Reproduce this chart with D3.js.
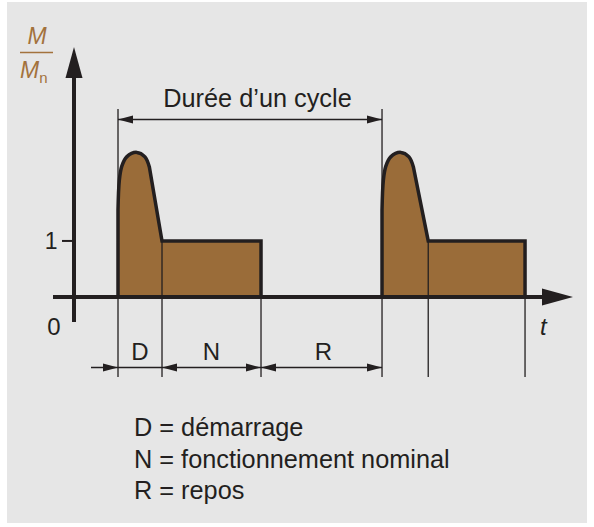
<!DOCTYPE html>
<html><head><meta charset="utf-8">
<script src="https://cdn.jsdelivr.net/npm/d3@7"></script>
<style>body{margin:0;background:#fff}svg{display:block}</style>
</head><body>
<script>
// ---- data ----
const pulseStarts = [4, 28];        // start of each cycle (beginning of D)
const startEnds = [8, 32.2];        // end of D (démarrage)
const nominalEnds = [17, 41];       // end of N (fonctionnement nominal)
const nominalLevel = 1;             // M/Mn during N
const humpProfile = [[0, 1.55], [0.12, 2.08], [0.34, 2.33], [0.79, 2.5], [1.7, 2.58], [2.45, 2.5], [2.85, 2.32]]; // [dt after start, M/Mn]
const phaseLabels = ["D", "N", "R"];
const yTickLabels = ["0", "1"];
const legendLines = ["D = démarrage", "N = fonctionnement nominal", "R = repos"];
const cycleLabel = "Durée d’un cycle";
const xAxisLabel = "t";

// ---- setup ----
const W = 594, H = 527;
const ink = "#231f20", brown = "#9a6c39", labelBrown = "#a3723c";
const svg = d3.select("body").append("svg").attr("width", W).attr("height", H);
svg.append("rect").attr("x", 7).attr("y", 2).attr("width", 580).attr("height", 521).attr("fill", "#e6e6e6");

const x = d3.scaleLinear().domain([0, 45.36]).range([74, 573]);
const y = d3.scaleLinear().domain([0, 4.46]).range([297, 47]);

function arrowHead(tx, ty, dir, len, half) {
  let pts;
  if (dir === "r") pts = [[tx, ty], [tx - len, ty - half], [tx - len, ty + half]];
  if (dir === "l") pts = [[tx, ty], [tx + len, ty - half], [tx + len, ty + half]];
  if (dir === "u") pts = [[tx, ty], [tx - half, ty + len], [tx + half, ty + len]];
  svg.append("path").attr("d", d3.line()(pts) + "Z").attr("fill", ink);
}

// ---- pulses ----
function pulsePath(i) {
  const s = pulseStarts[i];
  const hump = humpProfile.map(([dt, m]) => [x(s + dt), y(m)]);
  const lin = d3.line();
  const crv = d3.line().curve(d3.curveCatmullRom.alpha(0.5));
  const p1 = lin([[x(s), y(0)], hump[0]]);
  const p2 = crv(hump);
  const p3 = lin([hump[hump.length - 1], [x(startEnds[i]), y(nominalLevel)],
    [x(nominalEnds[i]), y(nominalLevel)], [x(nominalEnds[i]), y(0)]]);
  return p1 + "L" + p2.slice(1) + "L" + p3.slice(1);
}
pulseStarts.forEach((s, i) => {
  svg.append("path").attr("d", pulsePath(i)).attr("fill", brown)
    .attr("stroke", ink).attr("stroke-width", 3.5).attr("stroke-linejoin", "miter");
});

// ---- guide lines ----
const guideBottom = 377;
pulseStarts.forEach(s => {
  svg.append("line").attr("x1", x(s)).attr("x2", x(s)).attr("y1", 109).attr("y2", guideBottom)
    .attr("stroke", ink).attr("stroke-width", 1.3);
});
startEnds.concat(nominalEnds).forEach(t => {
  svg.append("line").attr("x1", x(t)).attr("x2", x(t)).attr("y1", y(nominalLevel)).attr("y2", guideBottom)
    .attr("stroke", ink).attr("stroke-width", 1.3);
});

// ---- axes ----
svg.append("line").attr("x1", 53).attr("x2", x.range()[1] - 20).attr("y1", y(0)).attr("y2", y(0))
  .attr("stroke", ink).attr("stroke-width", 4);
arrowHead(x.range()[1], y(0), "r", 31, 8.5);
svg.append("line").attr("x1", x(0)).attr("x2", x(0)).attr("y1", 322).attr("y2", y.range()[1] + 20)
  .attr("stroke", ink).attr("stroke-width", 4);
arrowHead(x(0), y.range()[1], "u", 31, 8.5);
svg.append("line").attr("x1", x(0) - 12).attr("x2", x(0)).attr("y1", y(1)).attr("y2", y(1))
  .attr("stroke", ink).attr("stroke-width", 2);

const font = "'Liberation Sans', Arial, Helvetica, sans-serif";
svg.append("text").text(yTickLabels[1]).attr("x", 57.5).attr("y", y(1) + 8.5)
  .attr("text-anchor", "end").attr("font-family", font).attr("font-size", 23).attr("fill", ink);
svg.append("text").text(yTickLabels[0]).attr("x", 54).attr("y", 335)
  .attr("text-anchor", "middle").attr("font-family", font).attr("font-size", 24).attr("fill", ink);
svg.append("text").text(xAxisLabel).attr("x", 540).attr("y", 335)
  .attr("font-family", font).attr("font-style", "italic").attr("font-size", 24).attr("fill", ink);

// M / Mn label
svg.append("text").text("M").attr("x", 37).attr("y", 43.5).attr("text-anchor", "middle")
  .attr("font-family", font).attr("font-style", "italic").attr("font-size", 23).attr("fill", labelBrown);
svg.append("line").attr("x1", 20).attr("x2", 53).attr("y1", 52.5).attr("y2", 52.5)
  .attr("stroke", labelBrown).attr("stroke-width", 1.6);
const mn = svg.append("text").attr("x", 20).attr("y", 77.5)
  .attr("font-family", font).attr("font-size", 23).attr("fill", labelBrown);
mn.append("tspan").text("M").attr("font-style", "italic");
mn.append("tspan").text("n").attr("font-size", 15).attr("dy", 5);

// ---- cycle dimension ----
const cy = 119.5;
svg.append("line").attr("x1", x(pulseStarts[0])).attr("x2", x(pulseStarts[1])).attr("y1", cy).attr("y2", cy)
  .attr("stroke", ink).attr("stroke-width", 1.3);
arrowHead(x(pulseStarts[0]), cy, "l", 15, 4);
arrowHead(x(pulseStarts[1]), cy, "r", 15, 4);
svg.append("text").text(cycleLabel).attr("x", 257.5).attr("y", 107)
  .attr("text-anchor", "middle").attr("font-family", font).attr("font-size", 25.3).attr("fill", ink);

// ---- phase dimensions ----
const dy = 367.5;
const phases = [[pulseStarts[0], startEnds[0]], [startEnds[0], nominalEnds[0]], [nominalEnds[0], pulseStarts[1]]];
svg.append("line").attr("x1", 91).attr("x2", x(phases[2][1])).attr("y1", dy).attr("y2", dy)
  .attr("stroke", ink).attr("stroke-width", 1.3);
arrowHead(x(phases[0][0]), dy, "r", 15, 4);
[phases[1], phases[2]].forEach(([a, b]) => {
  arrowHead(x(a), dy, "l", 15, 4);
  arrowHead(x(b), dy, "r", 15, 4);
});
phases.forEach(([a, b], i) => {
  svg.append("text").text(phaseLabels[i]).attr("x", (x(a) + x(b)) / 2 + (i === 2 ? 2 : 0)).attr("y", 360)
    .attr("text-anchor", "middle").attr("font-family", font).attr("font-size", 24).attr("fill", ink);
});

// ---- legend ----
legendLines.forEach((l, i) => {
  svg.append("text").text(l).attr("x", 134).attr("y", 436 + i * 31.7)
    .attr("font-family", font).attr("font-size", 25.3).attr("fill", ink);
});
</script>
</body></html>
